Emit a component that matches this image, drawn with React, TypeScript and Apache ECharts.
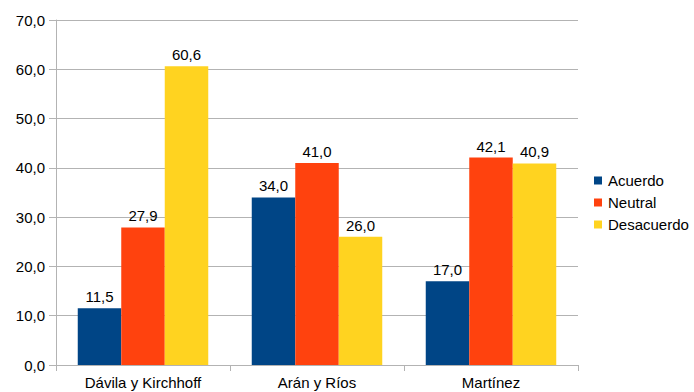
import React, { useEffect, useRef } from "react";
import * as echarts from "echarts";

const categories = ["Dávila y Kirchhoff", "Arán y Ríos", "Martínez"];
const acuerdo = [11.5, 34.0, 17.0];
const neutral = [27.9, 41.0, 42.1];
const desacuerdo = [60.6, 26.0, 40.9];
const seriesNames = ["Acuerdo", "Neutral", "Desacuerdo"];
const colors = ["#004586", "#ff420e", "#ffd320"];

const fmt = (v: number) => v.toFixed(1).replace(".", ",");

export default function App() {
  const ref = useRef<HTMLDivElement>(null);
  useEffect(() => {
    if (!ref.current) return;
    const chart = echarts.init(ref.current, null, { renderer: "svg" });
    const font = "Liberation Sans";
    const fs = 15;
    const dataSets = [acuerdo, neutral, desacuerdo];
    chart.setOption({
      animation: false,
      textStyle: { fontFamily: font },
      grid: { left: 56, right: 116, top: 20, bottom: 27, containLabel: false },
      legend: {
        orient: "vertical",
        left: 594,
        top: 173,
        padding: 0,
        itemWidth: 8,
        itemHeight: 8,
        itemGap: 7,
        icon: "rect",
        textStyle: { fontFamily: font, fontSize: fs, color: "#000", padding: [0, 0, 0, 1] },
        data: seriesNames,
      },
      xAxis: {
        type: "category",
        data: categories,
        axisLine: { lineStyle: { color: "#b3b3b3" } },
        axisTick: { show: true, length: 6, lineStyle: { color: "#b3b3b3" } },
        axisLabel: { fontFamily: font, fontSize: fs, color: "#000", margin: 10 },
      },
      yAxis: {
        type: "value",
        min: 0,
        max: 70,
        interval: 10,
        axisLine: { show: true, lineStyle: { color: "#b3b3b3" } },
        axisTick: { show: true, length: 7, lineStyle: { color: "#b3b3b3" } },
        splitLine: { lineStyle: { color: "#b3b3b3" } },
        axisLabel: {
          fontFamily: font,
          fontSize: fs,
          color: "#000",
          margin: 11,
          formatter: (v: number) => fmt(v),
        },
      },
      series: dataSets.map((d, i) => ({
        name: seriesNames[i],
        type: "bar",
        data: d,
        barGap: "0%",
        barCategoryGap: "25%",
        itemStyle: { color: colors[i] },
        label: {
          show: true,
          position: "top",
          fontFamily: font,
          fontSize: fs,
          color: "#000",
          distance: 4,
          formatter: (p: any) => fmt(p.value),
        },
      })),
    });
    return () => chart.dispose();
  }, []);
  return (
    <div
      ref={ref}
      style={{ width: 694, height: 392, position: "absolute", left: 0, top: 0 }}
    />
  );
}
